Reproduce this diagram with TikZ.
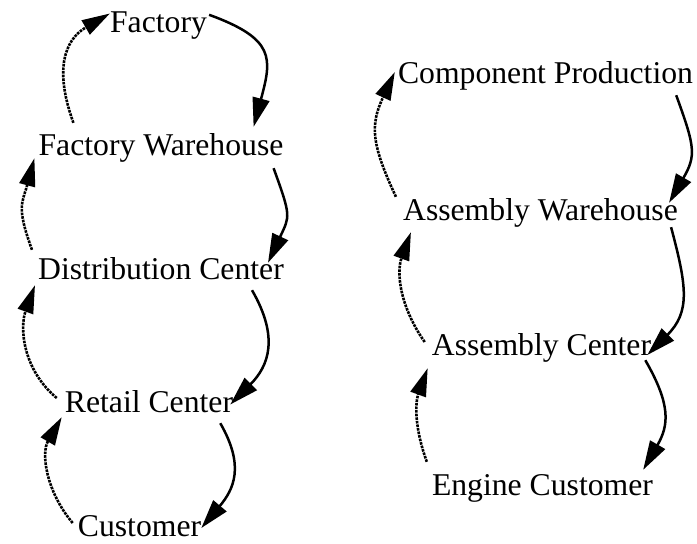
\documentclass[tikz,border=0pt]{standalone}
\usepackage{fontspec}
\setmainfont{Liberation Serif}
\usetikzlibrary{arrows.meta}

\begin{document}
\begin{tikzpicture}[x=1pt,y=1pt,
    stage/.style={inner sep=0pt,anchor=base,text height=22pt,text depth=7pt,font=\fontsize{31.7}{36}\selectfont},
    ship/.style={-{Triangle[length=29pt,width=17pt]},line width=2.5pt},
    order/.style={-{Triangle[length=28pt,width=16pt]},line width=2.6pt,densely dotted}]
            \useasboundingbox (0,0) rectangle (697,-544);
            % engine supply chain, left
            \node[stage] (fac) at (158.5,-32) {Factory};
            \node[stage] (fwh) at (161,-155) {Factory Warehouse};
            \node[stage] (dc) at (161,-279) {Distribution Center};
            \node[stage] (rc) at (149,-412) {Retail Center};
            \node[stage,text depth=3pt] (cus) at (139.5,-536) {Customer};
            % component chain, right
            \node[stage] (cp) at (545.5,-83) {Component Production};
            \node[stage] (aw) at (540.5,-220) {Assembly Warehouse};
            \node[stage] (ac) at (541.5,-355) {Assembly Center};
            \node[stage] (ec) at (542.5,-495) {Engine Customer};
            % material flow
            \draw[ship] ([xshift=2pt,yshift=-5pt]fac.north east) to[out=-20,in=75,looseness=1.5] ([xshift=-30pt,yshift=6pt]fwh.north east);
            \draw[ship] ([xshift=-10pt,yshift=-6pt]fwh.south east) to[out=-70,in=65,looseness=1.4] ([xshift=-16pt,yshift=-6pt]dc.north east);
            \draw[ship] ([xshift=-32pt,yshift=-4pt]dc.south east) to[out=-60,in=45,looseness=1.2] ([xshift=-3pt]rc.east);
            \draw[ship] ([xshift=-13pt,yshift=-4pt]rc.south east) to[out=-60,in=50,looseness=1.2] ([yshift=-1.5pt]cus.east);
            \draw[ship] ([xshift=-17pt,yshift=-5pt]cp.south east) to[out=-70,in=60,looseness=1.3] ([xshift=-9pt,yshift=-5pt]aw.north east);
            \draw[ship] ([xshift=-7pt]aw.south east) to[out=-75,in=45,looseness=1.2] ([xshift=-4pt,yshift=-7.5pt]ac.east);
            \draw[ship] ([xshift=-6pt,yshift=2pt]ac.south east) to[out=-60,in=60,looseness=1.2] ([xshift=-10pt,yshift=3pt]ec.north east);
            % orders going back
            \draw[order] ([xshift=35pt,yshift=10pt]fwh.north west) to[out=110,in=-150,looseness=1.2] ([yshift=11pt]fac.west);
            \draw[order] ([xshift=-6pt,yshift=7pt]dc.north west) to[out=110,in=-105,looseness=1.3] ([xshift=-4pt,yshift=4pt]fwh.south west);
            \draw[order] ([xshift=-8pt,yshift=6.5pt]rc.west) to[out=140,in=-110] ([xshift=-3pt,yshift=1pt]dc.south west);
            \draw[order] ([xshift=-5pt,yshift=3.5pt]cus.west) to[out=130,in=-120] ([xshift=-3pt,yshift=2pt]rc.south west);
            \draw[order] ([xshift=-7pt,yshift=1pt]aw.north west) to[out=115,in=-115,looseness=1.2] ([xshift=-3pt,yshift=3.5pt]cp.west);
            \draw[order] ([xshift=-7pt,yshift=5.5pt]ac.west) to[out=125,in=-110] ([xshift=8pt,yshift=-5pt]aw.south west);
            \draw[order] ([xshift=-5pt,yshift=11pt]ec.north west) to[out=110,in=-110] ([xshift=-4pt,yshift=-6pt]ac.south west);
        \end{tikzpicture}
\end{document}
